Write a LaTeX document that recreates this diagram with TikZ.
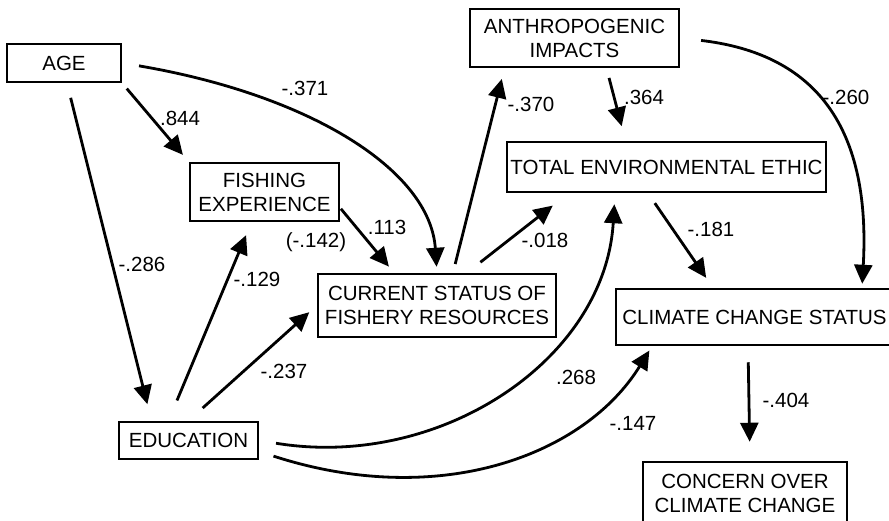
\documentclass[tikz,border=0pt]{standalone}
\usepackage{fontspec}
\setmainfont{Liberation Sans}
\usetikzlibrary{arrows.meta}

\tikzset{
  box/.style={draw, line width=2.5pt, align=center, inner sep=0pt, font=\fontsize{20.5}{24}\selectfont},
  arr/.style={line width=2.8pt, -{Triangle[length=19pt,width=18pt]}},
  lbl/.style={font=\fontsize{20.5}{24}\selectfont}
}

\begin{document}
\begin{tikzpicture}[x=1pt,y=-1pt]
  \useasboundingbox (0,0) rectangle (889,520);
  % boxes
  \node[box, minimum width=114pt, minimum height=38pt] (age) at (64,63) {AGE};
  \node[box, minimum width=149pt, minimum height=58pt] (fish) at (264.5,192) {FISHING\\EXPERIENCE};
  \node[box, minimum width=209pt, minimum height=58pt] (anthro) at (574.5,38) {ANTHROPOGENIC\\IMPACTS};
  \node[box, minimum width=319pt, minimum height=50pt] (ethic) at (666.5,167) {TOTAL ENVIRONMENTAL ETHIC};
  \node[box, minimum width=238pt, minimum height=63pt] (cur) at (437,305.5) {CURRENT STATUS OF\\FISHERY RESOURCES};
  \node[box, minimum width=139pt, minimum height=37pt] (edu) at (188.5,440.5) {EDUCATION};
  \node[box, minimum width=277pt, minimum height=56pt] (clim) at (754.5,317) {CLIMATE CHANGE STATUS};
  \node[box, minimum width=204pt, minimum height=63pt] (concern) at (745,493.5) {CONCERN OVER\\CLIMATE CHANGE};

  % paths
  \draw[arr, shorten <=7pt, shorten >=9pt] (age.south east) -- (fish.north west);
  \draw[arr, shorten <=17pt, shorten >=6pt] (age.east) .. controls (310,95) and (430,170) .. (cur.north);
  \draw[arr, shorten <=15pt, shorten >=17pt] ([xshift=3pt]age.south) -- ([xshift=-37pt]edu.north);
  \draw[arr, shorten <=22pt, shorten >=14pt] ([xshift=-20pt]edu.north) -- ([xshift=-13pt]fish.south);
  \draw[arr, shorten <=19pt, shorten >=10pt] (edu.north) -- (cur.west);
  \draw[arr, shorten <=1pt, shorten >=8pt] ([yshift=-16pt]fish.east) -- ([xshift=-43pt]cur.north);
  \draw[arr, shorten <=9pt, shorten >=11pt] ([xshift=16pt]cur.north) -- ([xshift=-70pt]anthro.south);
  \draw[arr, shorten <=17pt, shorten >=20pt] ([xshift=30pt]cur.north) -- ([xshift=-98pt]ethic.south);
  \draw[arr, shorten <=10pt, shorten >=15pt] ([xshift=32pt]anthro.south) -- ([xshift=-41pt]ethic.north);
  \draw[arr, shorten <=21pt, shorten >=4pt] (anthro.east) .. controls (800,52) and (872,110) .. ([xshift=107.5pt]clim.north);
  \draw[arr, shorten <=12pt, shorten >=12pt] ([xshift=-18.5pt]ethic.south) -- ([xshift=-41.5pt]clim.north);
  \draw[arr, shorten <=17pt, shorten >=11pt] (edu.east) .. controls (440,470) and (605,360) .. ([xshift=-51.5pt]ethic.south);
  \draw[arr, shorten <=15pt, shorten >=5pt] ([yshift=-11pt]edu.east) .. controls (440,510) and (585,455) .. ([xshift=-102.5pt]clim.south);
  \draw[arr, shorten <=16pt, shorten >=19pt] ([xshift=-6.5pt]clim.south) -- ([xshift=5pt]concern.north);

  % coefficients
  \node[lbl] (l844) at (180,118) {.844};
  \node[lbl] (l371) at (305,88) {-.371};
  \node[lbl] (l286) at (142,264) {-.286};
  \node[lbl] (l129) at (257,279) {-.129};
  \node[lbl] (l237) at (284,371) {-.237};
  \node[lbl] (l113) at (387,227) {.113};
  \node[lbl] (l142) at (316,242) {(-.142)};
  \node[lbl] (l370) at (531,104) {-.370};
  \node[lbl] (l364) at (644,97) {.364};
  \node[lbl] (l260) at (846,97) {-.260};
  \node[lbl] (l018) at (545,240) {-.018};
  \node[lbl] (l181) at (711,229) {-.181};
  \node[lbl] (l268) at (576,377) {.268};
  \node[lbl] (l147) at (633,423) {-.147};
  \node[lbl] (l404) at (786,400) {-.404};
\end{tikzpicture}
\end{document}
